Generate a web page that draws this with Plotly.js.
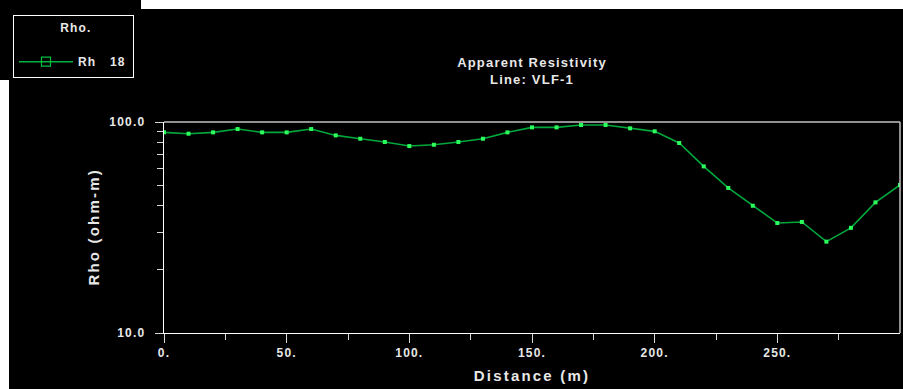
<!DOCTYPE html>
<html>
<head>
<meta charset="utf-8">
<script src="https://cdn.plot.ly/plotly-3.0.1.min.js"></script>
<style>
  html, body { margin: 0; padding: 0; background: #ffffff; }
  #chart { width: 903px; height: 389px; }
  .main-svg text { letter-spacing: 1.2px; }
  .main-svg .xtitle, .main-svg .ytitle, .main-svg .annotation-text { letter-spacing: 2.2px; }
</style>
</head>
<body>
<div id="chart"></div>
<script>
// Data
const distance = [0, 10, 20, 30, 40, 50, 60, 70, 80, 90, 100, 110, 120, 130, 140, 150,
                  160, 170, 180, 190, 200, 210, 220, 230, 240, 250, 260, 270, 280, 290, 300];
const rho = [89.3, 88.0, 89.3, 92.6, 89.3, 89.3, 92.6, 86.4, 83.3, 80.4, 76.9, 78.0, 80.4, 83.3, 89.3, 94.3,
             94.3, 96.8, 96.8, 93.3, 90.3, 79.5, 61.6, 48.7, 40.1, 33.2, 33.6, 27.1, 31.5, 41.6, 50.3];
const seriesName = "Rh&nbsp;&nbsp;&nbsp;18&nbsp;&nbsp;&nbsp;";
const legendTitle = "Rho.<br>&nbsp;";
const yTitle = "Rho (ohm-m)";
const xTickVals = [0, 50, 100, 150, 200, 250];
const xTickText = ["0.", "50.", "100.", "150.", "200.", "250."];
const xMinorVals = [25, 75, 125, 175, 225, 275];
const yTickVals = [10, 100];
const yTickText = ["10.0\u2002", "100.0\u2002"];
const yMinorVals = [20, 30, 40, 50, 60, 70, 80, 90];

const txt = '#e8e8e8';
const fontFam = '"Liberation Sans", Arial, sans-serif';

const traces = [
  {
    x: distance, y: rho, type: 'scatter', mode: 'lines+markers',
    line: { color: '#00a83c', width: 1.6 },
    marker: { symbol: 'square', size: 4, color: '#2cff5c' },
    showlegend: false, hoverinfo: 'x+y'
  },
  {
    x: [null], y: [null], type: 'scatter', mode: 'lines+markers', name: seriesName,
    line: { color: '#00b040', width: 1.6 },
    marker: { symbol: 'square-open', size: 9, color: '#00c040', line: { width: 1.2 } },
    showlegend: true
  }
];

// pixel -> paper helpers for background panels
const L = 164, R = 900, T = 122, B = 333;
const px = v => (v - L) / (R - L);
const py = v => (B - v) / (B - T);

const layout = {
  width: 903, height: 389,
  margin: { l: 164, r: 3, t: 122, b: 56, autoexpand: false },
  paper_bgcolor: '#ffffff',
  plot_bgcolor: '#000000',
  font: { family: fontFam, color: txt, size: 12, weight: 'bold' },
  title: {
    text: 'Apparent Resistivity<br>Line: VLF-1',
    font: { family: fontFam, size: 13, color: txt, weight: 'bold' },
    x: 0.5, xref: 'paper', xanchor: 'center',
    y: 1 - 67 / 389, yref: 'container', yanchor: 'top'
  },
  xaxis: {
    type: 'linear', range: [0, 300],
    showgrid: false, zeroline: false,
    showline: true, linecolor: '#ffffff', linewidth: 1,
    ticks: 'outside', ticklen: 9, tickwidth: 1, tickcolor: '#d8d8d8',
    tickmode: 'array', tickvals: xTickVals, ticktext: xTickText,
    tickfont: { family: fontFam, size: 12, color: txt, weight: 'bold' },
    minor: { tickmode: 'array', tickvals: xMinorVals, ticks: 'outside', ticklen: 6, tickcolor: '#d8d8d8', showgrid: false },
    title: { text: 'Distance (m)', font: { family: fontFam, size: 15, color: txt, weight: 'bold' }, standoff: 11 }
  },
  yaxis: {
    type: 'log', range: [1, 2],
    showgrid: false, zeroline: false,
    showline: true, linecolor: '#ffffff', linewidth: 1,
    ticks: 'outside', ticklen: 8, tickwidth: 1, tickcolor: '#d8d8d8',
    tickmode: 'array', tickvals: yTickVals, ticktext: yTickText,
    tickfont: { family: fontFam, size: 12, color: txt, weight: 'bold' },
    minor: { tickmode: 'array', tickvals: yMinorVals, ticks: 'outside', ticklen: 6, tickcolor: '#d8d8d8', showgrid: false }
  },
  annotations: [
    { text: yTitle, xref: 'paper', yref: 'paper', x: px(93), y: 0.5,
      xanchor: 'center', yanchor: 'middle', textangle: -90, showarrow: false,
      font: { family: fontFam, size: 15, color: txt, weight: 'bold' } }
  ],
  legend: {
    xref: 'container', yref: 'container',
    x: 13 / 903, y: 1 - 15 / 389, xanchor: 'left', yanchor: 'top',
    bgcolor: '#000000', bordercolor: '#ffffff', borderwidth: 1,
    itemwidth: 54,
    font: { family: fontFam, size: 12, color: txt, weight: 'bold' },
    title: { text: legendTitle, side: 'top center', font: { family: fontFam, size: 12, color: txt, weight: 'bold' } }
  },
  shapes: [
    { type: 'rect', xref: 'paper', yref: 'paper', layer: 'below',
      x0: px(9), x1: px(904), y0: py(9), y1: py(390), fillcolor: '#000000', line: { width: 0 } },
    { type: 'rect', xref: 'paper', yref: 'paper', layer: 'below',
      x0: px(-1), x1: px(141), y0: py(-1), y1: py(80), fillcolor: '#000000', line: { width: 0 } },
    { type: 'line', xref: 'paper', yref: 'paper', x0: 0, x1: 1, y0: 1, y1: 1,
      line: { color: '#c0c0c0', width: 1.5 } },
    { type: 'line', xref: 'paper', yref: 'paper', x0: 1, x1: 1, y0: 0, y1: 1,
      line: { color: '#c0c0c0', width: 1.5 } }
  ]
};

Plotly.newPlot('chart', traces, layout, { displayModeBar: false, staticPlot: true });
</script>
</body>
</html>
